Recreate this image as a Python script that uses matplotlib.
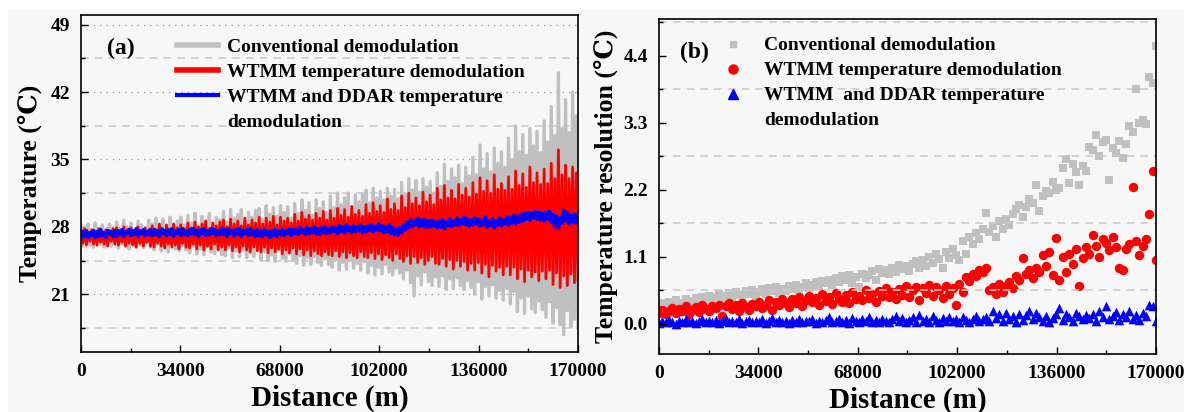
import numpy as np
import matplotlib.pyplot as plt
from matplotlib.lines import Line2D
from matplotlib.patches import Rectangle
from matplotlib.ticker import MultipleLocator

plt.rcParams['font.family'] = ['Liberation Serif', 'DejaVu Serif']
plt.rcParams['font.weight'] = 'bold'

# ---- panel (a): demodulated temperature along the fibre (degC) ----
conv_temp = [
    28.1, 26.0, 27.9, 26.4, 28.3, 26.1, 27.5, 25.9, 28.4, 26.6, 27.8, 26.2, 28.2, 25.9, 27.6, 26.3, 28.3, 26.0, 27.9, 26.5,
    28.5, 25.8, 27.7, 26.2, 28.7, 26.0, 28.0, 25.7, 28.4, 26.5, 27.6, 25.9, 28.6, 26.1, 28.2, 25.8, 27.8, 26.4, 28.7, 25.9,
    28.3, 25.6, 28.9, 26.2, 27.7, 25.5, 28.8, 26.0, 28.1, 25.4, 29.0, 26.3, 27.9, 25.7, 28.6, 25.5, 29.0, 26.1, 28.2, 25.6,
    29.2, 25.3, 28.4, 26.0, 29.4, 25.2, 28.0, 25.7, 29.1, 25.1, 28.6, 25.9, 29.4, 25.4, 28.3, 25.2, 29.0, 26.0, 28.7, 25.1,
    29.6, 25.0, 28.5, 25.8, 29.8, 24.8, 28.9, 25.5, 29.3, 24.9, 29.8, 25.6, 28.6, 24.8, 29.5, 25.3, 29.0, 24.9, 29.7, 25.7,
    29.9, 24.6, 28.8, 25.4, 30.2, 24.5, 29.3, 25.1, 30.0, 24.4, 29.1, 25.6, 30.2, 24.7, 29.5, 24.4, 30.1, 25.2, 28.9, 24.6,
    30.4, 24.2, 29.4, 25.0, 30.8, 24.0, 29.7, 24.8, 30.5, 24.1, 29.2, 24.9, 30.8, 24.3, 29.9, 24.0, 30.6, 24.7, 29.5, 24.1,
    31.2, 23.8, 30.0, 24.6, 31.5, 23.5, 30.3, 24.3, 31.0, 23.6, 31.5, 24.5, 30.1, 23.7, 31.3, 24.2, 30.6, 23.5, 31.4, 24.4,
    31.8, 23.2, 30.5, 24.0, 32.0, 23.0, 31.0, 23.8, 31.7, 23.1, 30.8, 24.1, 32.0, 23.3, 31.2, 23.0, 31.9, 23.7, 30.9, 23.2,
    32.6, 22.6, 31.4, 23.5, 33.0, 22.2, 31.8, 20.8, 32.8, 22.9, 31.6, 22.0, 33.0, 23.3, 32.1, 22.3, 32.7, 21.9, 31.5, 22.8,
    33.6, 21.8, 32.2, 22.9, 34.5, 21.5, 32.7, 22.6, 34.0, 21.6, 33.1, 22.7, 34.4, 21.9, 32.5, 21.5, 34.2, 22.4, 33.3, 21.7,
    35.2, 21.0, 33.4, 22.3, 36.5, 20.5, 34.0, 21.8, 35.6, 20.8, 33.7, 22.0, 36.2, 20.6, 34.6, 21.4, 35.8, 20.4, 34.2, 21.6,
    37.2, 20.0, 35.0, 21.3, 38.5, 19.2, 35.8, 20.6, 37.6, 19.0, 35.4, 20.8, 38.2, 19.5, 36.4, 19.1, 37.9, 20.3, 35.7, 19.4,
    39.0, 18.6, 36.8, 20.2, 40.5, 18.0, 37.5, 19.6, 44.0, 17.8, 38.2, 16.8, 41.2, 19.3, 37.8, 17.6, 42.0, 18.4, 39.5, 17.5,
]
wtmm_temp = [
    27.6, 26.3, 27.8, 26.1, 27.4, 26.5, 27.7, 26.2, 27.5, 26.1, 27.8, 26.4, 27.3, 26.2, 27.7, 26.0, 27.6, 26.5, 27.8, 26.2,
    27.9, 26.1, 27.5, 26.4, 28.0, 26.0, 27.7, 26.3, 27.9, 26.1, 27.4, 25.9, 28.0, 26.3, 27.6, 26.0, 27.9, 26.4, 27.7, 26.0,
    28.1, 25.9, 27.7, 26.3, 28.3, 26.0, 27.8, 25.8, 28.2, 26.2, 27.6, 25.9, 28.3, 26.1, 27.9, 25.7, 28.2, 26.3, 27.8, 25.9,
    28.4, 25.8, 27.9, 26.2, 28.5, 25.7, 28.0, 26.1, 28.3, 25.6, 28.6, 26.0, 27.8, 25.7, 28.4, 26.2, 28.1, 25.6, 28.5, 25.9,
    28.7, 25.6, 28.0, 26.1, 28.8, 25.5, 28.3, 25.9, 28.6, 25.4, 28.1, 26.0, 28.9, 25.6, 28.2, 25.4, 28.7, 25.9, 28.4, 25.5,
    29.0, 25.4, 28.3, 25.9, 28.9, 25.3, 28.5, 25.8, 29.1, 25.4, 28.2, 25.7, 29.0, 25.2, 28.6, 25.6, 28.9, 25.3, 28.4, 25.8,
    29.3, 25.2, 28.6, 25.7, 29.5, 25.1, 28.8, 25.6, 29.2, 25.0, 28.7, 25.5, 29.4, 25.2, 28.9, 25.0, 29.6, 25.4, 28.7, 25.1,
    29.7, 25.0, 28.9, 25.5, 29.9, 24.9, 29.2, 25.4, 29.8, 24.8, 29.0, 25.3, 30.1, 25.0, 29.3, 24.8, 29.7, 25.4, 29.1, 24.9,
    30.3, 24.8, 29.4, 25.3, 30.5, 24.7, 29.6, 25.2, 30.2, 24.6, 29.5, 25.1, 30.9, 24.8, 29.8, 24.5, 30.4, 25.2, 29.7, 24.7,
    31.2, 24.4, 30.0, 25.0, 31.5, 24.2, 30.4, 24.9, 31.0, 24.3, 30.2, 24.8, 31.6, 24.1, 30.6, 24.5, 31.3, 24.9, 30.3, 24.2,
    32.0, 24.1, 30.8, 24.7, 32.3, 23.9, 31.0, 24.6, 31.8, 23.6, 30.9, 24.5, 32.4, 23.9, 31.3, 24.4, 32.0, 23.5, 31.1, 24.2,
    32.6, 23.5, 31.4, 24.3, 33.1, 23.2, 31.7, 24.1, 32.8, 22.8, 31.5, 24.0, 33.4, 23.4, 31.9, 23.8, 32.5, 23.0, 31.8, 23.9,
    33.2, 23.0, 31.9, 23.8, 33.8, 22.6, 32.3, 23.6, 33.5, 22.3, 32.1, 23.5, 34.2, 22.8, 32.6, 23.3, 33.6, 22.4, 32.4, 23.4,
    34.0, 22.6, 32.5, 23.5, 34.6, 22.0, 33.0, 23.2, 36.0, 21.7, 33.4, 22.9, 34.4, 21.9, 33.0, 23.1, 34.2, 22.2, 33.6, 22.4,
]
ddar_temp = [
    26.8, 27.5, 27.0, 27.6, 26.9, 27.4, 27.1, 27.6, 26.9, 27.5, 27.0, 27.7, 27.1, 27.4, 26.9, 27.6, 27.2, 27.5, 27.0, 27.6,
    27.0, 27.6, 27.2, 27.7, 27.0, 27.5, 27.3, 27.7, 27.1, 27.6, 27.2, 27.8, 27.0, 27.6, 27.3, 27.7, 27.1, 27.5, 27.2, 27.7,
    27.1, 27.7, 27.2, 27.6, 27.0, 27.8, 27.3, 27.6, 27.1, 27.7, 27.2, 27.8, 27.0, 27.6, 27.3, 27.7, 27.1, 27.8, 27.2, 27.6,
    27.1, 27.7, 27.3, 27.8, 27.2, 27.6, 27.0, 27.7, 27.3, 27.8, 27.1, 27.6, 27.2, 27.8, 27.3, 27.7, 27.1, 27.6, 27.2, 27.8,
    27.2, 27.7, 27.0, 27.8, 27.3, 27.6, 27.1, 27.7, 27.2, 27.8, 27.0, 27.6, 27.3, 27.7, 27.1, 27.8, 27.2, 27.6, 27.0, 27.7,
    27.1, 27.6, 27.0, 27.7, 27.2, 27.5, 26.9, 27.6, 27.1, 27.7, 27.0, 27.5, 27.2, 27.7, 27.1, 27.6, 27.3, 27.8, 27.1, 27.7,
    27.3, 27.8, 27.2, 27.9, 27.4, 27.7, 27.2, 27.9, 27.3, 27.8, 27.4, 28.0, 27.3, 27.8, 27.2, 27.9, 27.4, 28.0, 27.3, 27.8,
    27.4, 28.0, 27.5, 27.9, 27.3, 28.1, 27.5, 28.0, 27.4, 28.2, 27.6, 27.9, 27.4, 28.1, 27.5, 28.0, 27.6, 28.2, 27.4, 28.0,
    27.5, 28.1, 27.6, 28.2, 27.5, 28.0, 27.7, 28.3, 27.6, 28.1, 27.4, 28.0, 27.5, 28.2, 27.3, 27.9, 27.2, 27.8, 27.1, 27.9,
    27.4, 28.2, 27.7, 28.5, 27.9, 28.7, 28.0, 28.6, 28.2, 28.9, 28.0, 28.7, 28.1, 28.8, 27.9, 28.6, 28.0, 28.7, 28.1, 28.5,
    27.9, 28.6, 28.0, 28.7, 27.8, 28.5, 28.1, 28.8, 28.0, 28.6, 28.2, 28.9, 28.1, 28.7, 28.3, 29.0, 28.2, 28.8, 28.1, 28.7,
    28.2, 28.9, 28.3, 28.8, 28.1, 28.7, 28.2, 29.0, 28.0, 28.6, 28.1, 28.8, 27.9, 28.6, 28.2, 28.9, 28.1, 28.7, 28.3, 29.0,
    28.2, 29.0, 28.4, 29.2, 28.3, 29.1, 28.5, 29.3, 28.6, 29.4, 28.8, 29.5, 28.7, 29.4, 28.9, 29.6, 28.8, 29.5, 28.7, 29.4,
    28.6, 29.5, 28.8, 29.6, 28.5, 29.3, 28.0, 29.1, 27.9, 28.9, 28.4, 29.7, 28.6, 29.5, 28.3, 29.2, 28.5, 29.3, 28.4, 29.1,
]

# ---- panel (b): temperature resolution (degC) ----
conv_res = [
    0.30, 0.34, 0.27, 0.36, 0.31, 0.38, 0.33, 0.29, 0.40, 0.35,
    0.37, 0.42, 0.34, 0.44, 0.39, 0.46, 0.36, 0.43, 0.48, 0.41,
    0.45, 0.50, 0.43, 0.52, 0.47, 0.44, 0.53, 0.49, 0.55, 0.46,
    0.51, 0.56, 0.49, 0.58, 0.53, 0.60, 0.50, 0.57, 0.54, 0.61,
    0.57, 0.63, 0.55, 0.60, 0.66, 0.58, 0.64, 0.68, 0.61, 0.70,
    0.66, 0.72, 0.63, 0.75, 0.69, 0.78, 0.71, 0.80, 0.67, 0.76,
    0.60, 0.82, 0.74, 0.79, 0.86, 0.72, 0.90, 0.83, 0.88, 0.81,
    0.92, 0.85, 0.96, 0.89, 0.94, 0.87, 0.98, 1.02, 0.91, 1.05,
    0.95, 1.10, 1.00, 1.15, 1.06, 0.92, 1.18, 1.08, 1.22, 1.12,
    1.05, 1.35, 1.15, 1.42, 1.30, 1.48, 1.38, 1.55, 1.82, 1.50,
    1.60, 1.42, 1.68, 1.55, 1.72, 1.62, 1.80, 1.88, 1.95, 1.75,
    1.92, 2.05, 1.98, 2.28, 1.85, 2.10, 2.18, 2.15, 2.32, 2.20,
    2.22, 2.55, 2.70, 2.30, 2.62, 2.48, 2.28, 2.58, 2.50, 2.90,
    2.85, 3.10, 2.75, 2.98, 3.02, 2.35, 2.88, 2.80, 3.00, 2.72,
    2.95, 3.25, 3.15, 3.85, 3.30, 3.35, 3.28, 4.05, 3.95, 4.55,
]
wtmm_res = [
    0.18, 0.23, 0.15, 0.21, 0.26, 0.17, 0.24, 0.20, 0.28, 0.16,
    0.22, 0.27, 0.19, 0.30, 0.24, 0.21, 0.29, 0.25, 0.31, 0.12,
    0.28, 0.33, 0.24, 0.30, 0.20, 0.34, 0.27, 0.22, 0.32, 0.29,
    0.35, 0.26, 0.31, 0.38, 0.23, 0.36, 0.30, 0.41, 0.33, 0.27,
    0.40, 0.34, 0.44, 0.29, 0.38, 0.46, 0.35, 0.42, 0.31, 0.48,
    0.37, 0.44, 0.32, 0.50, 0.41, 0.36, 0.47, 0.33, 0.52, 0.40,
    0.45, 0.38, 0.55, 0.42, 0.49, 0.36, 0.53, 0.46, 0.58, 0.43,
    0.51, 0.40, 0.57, 0.47, 0.62, 0.44, 0.55, 0.60, 0.38, 0.58,
    0.50, 0.63, 0.46, 0.60, 0.55, 0.42, 0.62, 0.48, 0.58, 0.30,
    0.65, 0.52, 0.76, 0.70, 0.82, 0.78, 0.88, 0.85, 0.92, 0.55,
    0.60, 0.48, 0.65, 0.52, 0.62, 0.68, 0.58, 0.78, 0.72, 1.08,
    0.82, 0.88, 0.75, 0.92, 0.85, 1.12, 0.95, 1.18, 0.80, 1.40,
    0.72, 1.10, 0.85, 1.15, 0.98, 1.22, 0.62, 1.08, 1.25, 1.15,
    1.45, 1.28, 1.10, 1.38, 1.32, 1.20, 1.42, 1.25, 0.92, 0.88,
    1.22, 1.30, 2.25, 1.35, 1.12, 1.28, 1.38, 1.80, 2.50, 1.05,
]
ddar_res = [
    0.01, 0.04, 0.02, 0.06, 0.03, 0.00, 0.05, 0.02, 0.07, 0.03,
    0.05, 0.01, 0.04, 0.08, 0.02, 0.05, 0.03, 0.06, 0.01, 0.04,
    0.07, 0.02, 0.05, 0.03, 0.08, 0.01, 0.04, 0.06, 0.02, 0.05,
    0.03, 0.07, 0.01, 0.05, 0.09, 0.02, 0.06, 0.03, 0.05, 0.01,
    0.06, 0.03, 0.08, 0.02, 0.05, 0.04, 0.07, 0.01, 0.05, 0.03,
    0.06, 0.11, 0.02, 0.05, 0.08, 0.03, 0.06, 0.01, 0.09, 0.04,
    0.02, 0.07, 0.04, 0.10, 0.03, 0.06, 0.02, 0.08, 0.05, 0.03,
    0.07, 0.13, 0.04, 0.09, 0.02, 0.06, 0.10, 0.03, 0.14, 0.05,
    0.08, 0.03, 0.12, 0.06, 0.02, 0.09, 0.05, 0.11, 0.04, 0.07,
    0.03, 0.10, 0.06, 0.02, 0.08, 0.12, 0.04, 0.07, 0.10, 0.05,
    0.21, 0.09, 0.15, 0.04, 0.18, 0.08, 0.12, 0.02, 0.16, 0.06,
    0.14, 0.20, 0.08, 0.17, 0.11, 0.05, 0.13, 0.02, 0.09, 0.16,
    0.25, 0.06, 0.15, 0.10, 0.04, 0.18, 0.12, 0.07, 0.14, 0.09,
    0.16, 0.05, 0.21, 0.11, 0.28, 0.08, 0.13, 0.19, 0.06, 0.15,
    0.10, 0.20, 0.08, 0.14, 0.06, 0.18, 0.12, 0.30, 0.28, 0.05,
]

x_max = 170000
labels_a = ['Conventional demodulation', 'WTMM temperature demodulation',
            'WTMM and DDAR temperature', 'demodulation']
labels_b = ['Conventional demodulation', 'WTMM temperature demodulation',
            'WTMM  and DDAR temperature', 'demodulation']


def dist(vals):
    return np.linspace(0, x_max, len(vals))


fig = plt.figure(figsize=(11.91, 4.12), dpi=100, facecolor='white')
fig.patches.append(Rectangle((8 / 1191, 0), 1175 / 1191, 403 / 412,
                             transform=fig.transFigure, color='#f7f7f7', zorder=-10))

ax1 = fig.add_axes([81 / 1191, (412 - 352) / 412, 497 / 1191, 337 / 412])
ax2 = fig.add_axes([659 / 1191, (412 - 354) / 412, 497 / 1191, 335 / 412])

for ax in (ax1, ax2):
    ax.set_facecolor('#f7f7f7')
    ax.set_xlim(0, x_max)
    ax.xaxis.set_major_locator(MultipleLocator(34000))
    ax.xaxis.set_minor_locator(MultipleLocator(17000))
    ax.tick_params(which='both', direction='in', top=False, right=False)
    ax.tick_params(which='major', length=5, width=1, labelsize=14, pad=8)
    ax.tick_params(which='minor', length=3, width=1)
    for s in ax.spines.values():
        s.set_linewidth(1.2)
    ax.set_xlabel('Distance (m)', fontsize=21, fontweight='bold', labelpad=3)

legend_font = {'family': ['Liberation Serif', 'DejaVu Serif'], 'weight': 'bold', 'size': 14}

# panel (a)
ax1.plot(dist(conv_temp), conv_temp, color='#c0c0c0', lw=2.4)
ax1.plot(dist(wtmm_temp), wtmm_temp, color='#ff0000', lw=2.0)
ax1.plot(dist(ddar_temp), ddar_temp, color='#0000ff', lw=2.6)
ax1.set_ylim(15, 50)
ax1.set_yticks([21, 28, 35, 42, 49])
ax1.yaxis.set_minor_locator(MultipleLocator(3.5))
ax1.grid(which='major', axis='y', linestyle=(0, (1, 4)), color='#909090', lw=0.9)
ax1.grid(which='minor', axis='y', linestyle=(0, (5, 4)), color='#c8c8c8', lw=1.1)
ax1.set_ylabel('Temperature (℃)', fontsize=18.5, fontweight='bold', labelpad=6)
ax1.text(0.053, 0.9, '(a)', transform=ax1.transAxes, fontsize=17, fontweight='bold',
         va='center')
h1 = [Line2D([], [], color='#c0c0c0', lw=4),
      Line2D([], [], color='#ff0000', lw=4),
      Line2D([], [], color='#0000ff', lw=3),
      Line2D([], [], color='none')]
ax1.legend(h1, labels_a, loc='upper left', bbox_to_anchor=(0.177, 0.955), frameon=False,
           prop=legend_font, handlelength=2.1, handletextpad=0.5, labelspacing=0.38,
           borderaxespad=0)

# panel (b)
ax2.scatter(dist(conv_res), conv_res, marker='s', s=30, color='#c0c0c0', lw=0)
ax2.scatter(dist(wtmm_res), wtmm_res, marker='o', s=46, color='#ff0000', lw=0)
ax2.scatter(dist(ddar_res), ddar_res, marker='^', s=48, color='#0000ff', lw=0)
ax2.set_ylim(-0.5, 5.0)
ax2.set_yticks([0.0, 1.1, 2.2, 3.3, 4.4])
ax2.set_yticklabels(['0.0', '1.1', '2.2', '3.3', '4.4'])
ax2.yaxis.set_minor_locator(MultipleLocator(0.55))
ax2.grid(which='minor', axis='y', linestyle=(0, (5, 4)), color='#c8c8c8', lw=1.1)
ax2.set_ylabel('Temperature resolution (℃)', fontsize=18.5, fontweight='bold', labelpad=4)
ax2.text(0.043, 0.9, '(b)', transform=ax2.transAxes, fontsize=17, fontweight='bold',
         va='center')
h2 = [Line2D([], [], color='#c0c0c0', marker='s', ls='none', markersize=5),
      Line2D([], [], color='#ff0000', marker='o', ls='none', markersize=6.5),
      Line2D([], [], color='#0000ff', marker='^', ls='none', markersize=6.5),
      Line2D([], [], color='none', ls='none')]
ax2.legend(h2, labels_b, loc='upper left', bbox_to_anchor=(0.11, 0.97), frameon=False,
           prop=legend_font, handlelength=1.2, handletextpad=1.0, labelspacing=0.38,
           borderaxespad=0)

for ax in (ax1, ax2):
    for lab in ax.get_xticklabels() + ax.get_yticklabels():
        lab.set_fontweight('bold')

fig.savefig('out.png', dpi=100, facecolor=fig.get_facecolor())
